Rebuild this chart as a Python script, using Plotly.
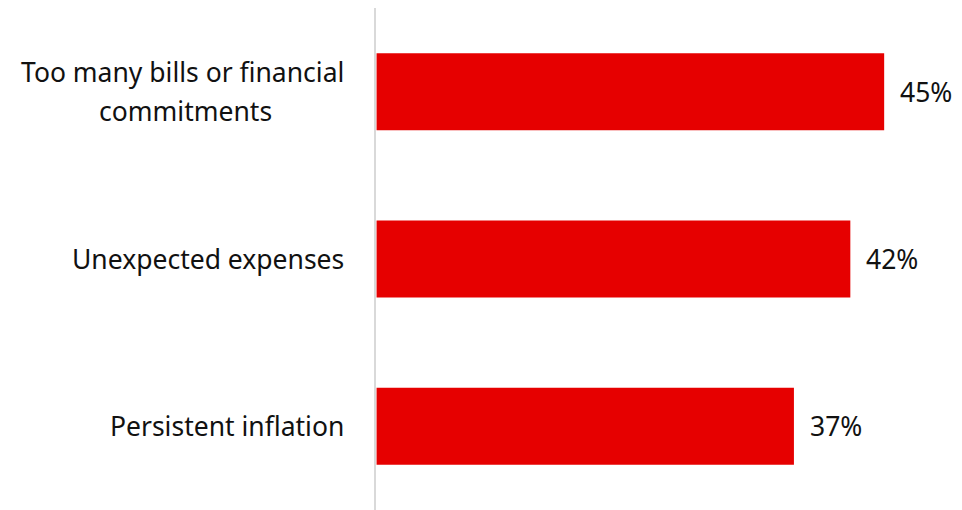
import plotly.graph_objects as go

categories = ["Too many bills or financial commitments", "Unexpected expenses", "Persistent inflation"]
label_lines = [["Too many bills or financial", "commitments"], ["Unexpected expenses"], ["Persistent inflation"]]
values = [45, 42, 37]
value_labels = ["45%", "42%", "37%"]

BAR_COLOR = "#E60000"
TEXT_COLOR = "#111111"
FONT = "Noto Sans"
FONT_SIZE = 26.5
LABEL_GAP = 30      # px between category labels and the axis line
LINE_STEP = 39      # px between lines of a wrapped category label
FIRST_LINE_W = 321  # rendered width of the widest wrapped line

fig = go.Figure(
    go.Bar(
        x=values,
        y=categories,
        orientation="h",
        marker=dict(color=BAR_COLOR, line=dict(width=0)),
        width=0.46,
        hoverinfo="skip",
    )
)

# value labels to the right of each bar
for cat, val, lab in zip(categories, values, value_labels):
    fig.add_annotation(
        x=val, y=cat, text=lab, showarrow=False,
        xanchor="left", xshift=14,
        font=dict(family=FONT, size=FONT_SIZE, color=TEXT_COLOR),
    )

# category labels: right-aligned block, wrapped lines centred within it
for cat, lines in zip(categories, label_lines):
    n = len(lines)
    for i, line in enumerate(lines):
        yshift = (n - 1) / 2 * LINE_STEP - i * LINE_STEP
        if n == 1 or i == 0:
            xanchor, xshift = "right", -LABEL_GAP
        else:
            xanchor, xshift = "center", -LABEL_GAP - FIRST_LINE_W / 2
        fig.add_annotation(
            xref="paper", x=0, y=cat, text=line, showarrow=False,
            xanchor=xanchor, xshift=xshift, yshift=yshift,
            font=dict(family=FONT, size=FONT_SIZE, color=TEXT_COLOR),
        )

fig.update_layout(
    width=962, height=510,
    margin=dict(l=376, r=0, t=8, b=0),
    paper_bgcolor="white", plot_bgcolor="white",
    showlegend=False,
    font=dict(family=FONT, size=FONT_SIZE, color=TEXT_COLOR),
)
fig.update_xaxes(range=[-0.05, 51.9], visible=False, showgrid=False, zeroline=False)
fig.update_yaxes(
    autorange="reversed",
    showgrid=False, zeroline=False,
    showline=True, linecolor="#d9d9d9", linewidth=2,
    showticklabels=False, ticks="",
)

fig.write_html("out.html")
